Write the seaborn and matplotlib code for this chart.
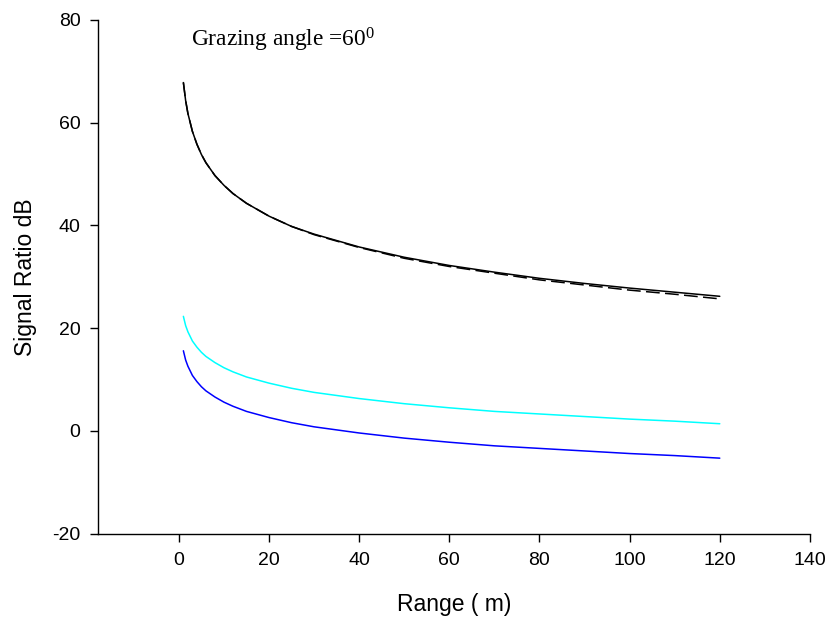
import matplotlib
matplotlib.use("Agg")
import matplotlib.pyplot as plt
import seaborn as sns
import pandas as pd

# Range samples (m) and signal ratios (dB) for each curve
range_m = [1, 1.5, 2, 3, 4, 5, 6, 8, 10, 12, 15, 20, 25, 30, 40, 50, 60, 70, 80, 90, 100, 110, 120]

ratio_black = [67.8, 64.3, 61.8, 58.3, 55.8, 53.8, 52.2, 49.7, 47.8, 46.2, 44.3, 41.8,
               39.8, 38.3, 35.8, 33.8, 32.2, 30.9, 29.7, 28.7, 27.8, 27.0, 26.2]
ratio_dashed = [67.8, 64.3, 61.8, 58.3, 55.8, 53.8, 52.2, 49.7, 47.8, 46.2, 44.3, 41.8,
                39.8, 38.2, 35.7, 33.6, 32.0, 30.7, 29.4, 28.4, 27.4, 26.6, 25.7]
ratio_cyan = [22.3, 20.5, 19.3, 17.5, 16.3, 15.3, 14.5, 13.3, 12.3, 11.5, 10.5, 9.3,
              8.3, 7.5, 6.3, 5.3, 4.5, 3.8, 3.3, 2.8, 2.3, 1.9, 1.4]
ratio_blue = [15.6, 13.8, 12.6, 10.8, 9.6, 8.6, 7.8, 6.6, 5.6, 4.8, 3.8, 2.6,
              1.6, 0.8, -0.4, -1.4, -2.2, -2.9, -3.4, -3.9, -4.4, -4.8, -5.3]

x_ticks = [0, 20, 40, 60, 80, 100, 120, 140]
y_ticks = [-20, 0, 20, 40, 60, 80]

sns.set_style("ticks")
plt.rcParams["font.family"] = ["Liberation Sans", "DejaVu Sans"]
plt.rcParams["axes.unicode_minus"] = False
plt.rcParams["text.color"] = "black"
plt.rcParams["axes.labelcolor"] = "black"
plt.rcParams["mathtext.fontset"] = "custom"
plt.rcParams["mathtext.rm"] = "Liberation Serif"
plt.rcParams["mathtext.it"] = "Liberation Serif:italic"

series = {
    "solid": ratio_black,
    "dashed": ratio_dashed,
    "cyan": ratio_cyan,
    "blue": ratio_blue,
}
df = pd.concat(
    [pd.DataFrame({"range": range_m, "ratio": vals, "curve": name}) for name, vals in series.items()],
    ignore_index=True,
)

fig = plt.figure(figsize=(8.29, 6.21), dpi=100)
ax = fig.add_axes([0.1179, 0.1406, 0.977 - 0.1179, 0.968 - 0.1406])

palette = {"solid": "black", "dashed": "black", "cyan": "#00FFFF", "blue": "#0000FF"}
for name in ["dashed", "solid", "cyan", "blue"]:
    sub = df[df["curve"] == name]
    line_kw = dict(linewidth=1.1, color=palette[name])
    if name == "dashed":
        line_kw.update(linestyle=(0, (9, 3.5)))
    sns.lineplot(data=sub, x="range", y="ratio", ax=ax, estimator=None, sort=False,
                 legend=False, **line_kw)

ax.set_xlim(-18, 140)
ax.set_ylim(-20, 80)
ax.set_xticks(x_ticks)
ax.set_yticks(y_ticks)
ax.tick_params(axis="both", direction="out", length=5.5, width=1.0, colors="black",
               labelsize=14)
ax.tick_params(axis="x", pad=8)
ax.tick_params(axis="y", pad=7)

sns.despine(ax=ax)
for side in ["left", "bottom"]:
    ax.spines[side].set_linewidth(1.0)
    ax.spines[side].set_color("black")

ax.set_xlabel("Range ( m)", fontsize=16.5, labelpad=17)
ax.set_ylabel("Signal Ratio dB", fontsize=16.5, labelpad=11)

ax.text(2.7, 74.9, "Grazing angle =60$^{0}$", fontsize=16.8,
        family=["Liberation Serif", "DejaVu Serif"], ha="left", va="baseline")

fig.savefig("out.png", dpi=100)
